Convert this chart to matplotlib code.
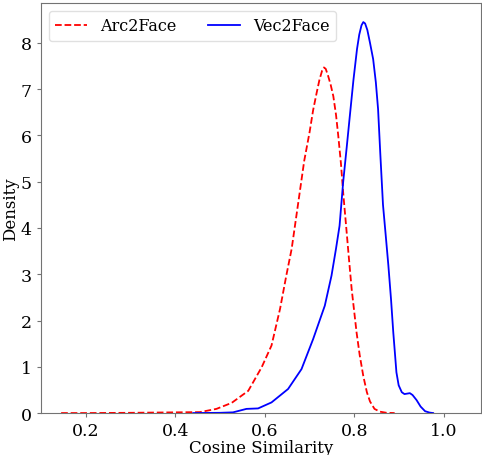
import matplotlib
matplotlib.use('Agg')
import matplotlib.pyplot as plt

# KDE curves (cosine similarity vs density)
arc_x = [0.145, 0.20, 0.30, 0.40, 0.455, 0.492, 0.526, 0.563, 0.593, 0.615, 0.634,
         0.648, 0.66, 0.678, 0.688, 0.70, 0.708, 0.716, 0.722, 0.728, 0.732, 0.736,
         0.741, 0.747, 0.753, 0.759, 0.764, 0.770, 0.775, 0.782, 0.788, 0.794,
         0.805, 0.812, 0.82, 0.828, 0.835, 0.845, 0.857, 0.872, 0.89]
arc_y = [0.0, 0.0, 0.005, 0.015, 0.02, 0.09, 0.22, 0.48, 0.99, 1.46, 2.25,
         2.97, 3.55, 4.77, 5.45, 6.07, 6.55, 6.93, 7.2, 7.4, 7.47, 7.44,
         7.3, 7.1, 6.85, 6.45, 6.0, 5.4, 4.77, 4.0, 3.33, 2.68,
         1.74, 1.25, 0.80, 0.45, 0.25, 0.09, 0.03, 0.005, 0.0]

vec_x = [0.44, 0.50, 0.529, 0.559, 0.585, 0.615, 0.652, 0.682, 0.708, 0.734, 0.749,
         0.759, 0.767, 0.775, 0.783, 0.79, 0.798, 0.806, 0.811, 0.816, 0.82, 0.824,
         0.829, 0.835, 0.842, 0.848, 0.853, 0.858, 0.864, 0.870, 0.876, 0.882,
         0.887, 0.891, 0.894, 0.899, 0.906, 0.912, 0.918, 0.924, 0.930, 0.939,
         0.948, 0.958, 0.968, 0.976]
vec_y = [0.0, 0.005, 0.015, 0.09, 0.10, 0.23, 0.52, 0.95, 1.6, 2.32, 2.97,
         3.55, 4.05, 4.99, 5.75, 6.43, 7.2, 7.87, 8.18, 8.38, 8.45, 8.42,
         8.28, 8.0, 7.65, 7.15, 6.57, 5.6, 4.5, 3.85, 3.19, 2.45,
         1.74, 1.25, 0.88, 0.6, 0.45, 0.41, 0.42, 0.43, 0.39, 0.28,
         0.14, 0.04, 0.01, 0.0]

plt.rcParams['font.family'] = 'DejaVu Serif'
plt.rcParams['font.size'] = 12

fig = plt.figure(figsize=(4.82, 4.56), dpi=100)
ax = fig.add_axes([0.085, 0.092, 0.913, 0.899])

ax.plot(arc_x, arc_y, color='red', ls='--', lw=1.3, label='Arc2Face')
ax.plot(vec_x, vec_y, color='blue', ls='-', lw=1.3, label='Vec2Face')

ax.set_xlim(0.1, 1.083)
ax.set_ylim(0, 8.86)
ax.set_xticks([0.2, 0.4, 0.6, 0.8, 1.0])
ax.set_yticks(range(0, 9))
ax.set_xlabel('Cosine Similarity', labelpad=0)
ax.set_ylabel('Density', labelpad=1)

for s in ax.spines.values():
    s.set_color('0.45')
ax.tick_params(color='0.45', length=3, labelsize=12.5)

ax.legend(loc='upper left', ncol=2, fontsize=11.5, frameon=True, edgecolor='0.85')

fig.savefig('out.png', dpi=100)
